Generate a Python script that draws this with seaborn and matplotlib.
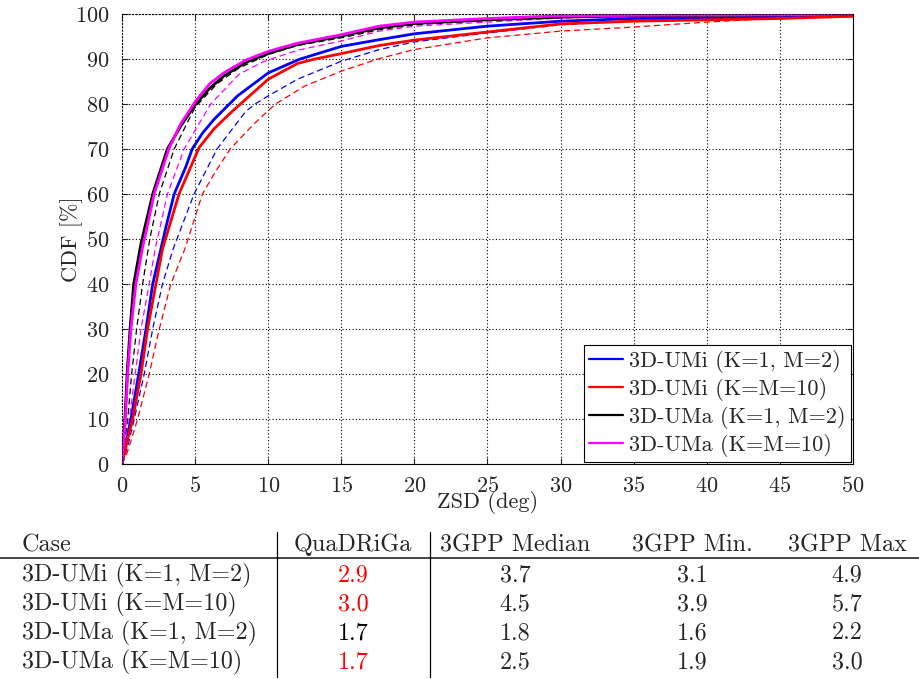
import matplotlib
matplotlib.use("Agg")
import matplotlib.pyplot as plt
from matplotlib.lines import Line2D
import seaborn as sns
import pandas as pd

# ---------------- data ----------------
# QuaDRiGa (solid)
umi_k1m2_x = [0, 0.3, 0.61, 1.14, 1.64, 2.1, 2.66, 3.0, 3.57, 4.36, 4.8, 5.5, 6.3, 7.9, 10, 12.1, 15, 17.6, 20, 25, 30, 35, 40, 45, 50]
umi_k1m2_y = [0, 5, 10, 20, 30, 40, 47.8, 52.6, 60, 66, 70, 73.5, 76.6, 81.8, 86.9, 89.9, 92.8, 94.3, 95.6, 97.3, 98.4, 99.0, 99.1, 99.3, 99.6]

umi_k10_x = [0, 0.35, 0.73, 1.3, 1.75, 2.32, 2.77, 3.9, 5.27, 6.3, 7.55, 10, 12, 13.2, 15, 17.6, 20, 25, 30, 35, 40, 45, 50]
umi_k10_y = [0, 5, 10, 20, 30, 40, 47.8, 60, 70.3, 74.5, 78.4, 85.5, 89.0, 90.0, 91.2, 93.0, 94.2, 96.0, 97.8, 98.4, 98.7, 99.0, 99.5]

uma_k1m2_x = [0, 0.2, 0.35, 0.55, 0.8, 1.3, 2.1, 3.1, 4.0, 5.0, 6.0, 7.0, 8.5, 10, 12, 15, 17.6, 20, 25, 30, 35, 40, 45, 50]
uma_k1m2_y = [0, 10, 20, 30, 40, 49, 60, 70, 75, 79.8, 83.5, 86.3, 89.3, 91.2, 93.2, 95.1, 96.9, 97.9, 98.7, 99.3, 99.6, 99.7, 99.8, 100]

uma_k10_x = [0, 0.23, 0.39, 0.61, 0.95, 1.4, 2.2, 3.2, 4.0, 5.05, 6.0, 7.0, 8.5, 10, 12, 15, 17.6, 20, 25, 30, 35, 40, 45, 50]
uma_k10_y = [0, 10, 20, 30, 40, 48, 60, 70, 75.5, 80.7, 84.5, 87, 89.8, 91.7, 93.5, 95.4, 97.3, 98.2, 99.0, 99.6, 99.7, 99.8, 99.8, 100]

# 3GPP (dashed)
g_umi_k1m2_x = [0, 0.4, 0.84, 1.52, 2.1, 2.77, 3.5, 4.93, 6.5, 8.45, 9.1, 10, 12, 15, 17.6, 20, 25, 30, 35, 40, 45, 50]
g_umi_k1m2_y = [0, 4, 10, 20, 30, 40, 47.8, 60, 70, 78.3, 80, 81.8, 85.5, 89.5, 92.1, 93.8, 95.8, 97.6, 98.5, 98.8, 99.2, 99.6]

g_umi_k10_x = [0, 0.3, 0.6, 1.07, 1.86, 2.55, 3.34, 4.3, 5.5, 6.4, 7.4, 9.0, 10.5, 12.5, 15, 17.6, 20, 25, 30, 35, 40, 45, 50]
g_umi_k10_y = [0, 2, 5, 10, 20, 30, 40, 47.8, 60, 65, 70, 75.5, 80, 84, 87.3, 90.1, 92.1, 94.7, 96.2, 97.1, 98.2, 99.1, 99.5]

g_uma_k1m2_x = [0, 0.39, 0.66, 1.0, 1.41, 1.9, 2.55, 3.57, 5.0, 6.5, 8, 10, 12, 15, 17.6, 20, 25, 30, 35, 40, 45, 50]
g_uma_k1m2_y = [0, 10, 20, 30, 40, 50, 60, 70, 79.3, 84.5, 88, 91, 93, 94.7, 96.5, 97.6, 98.6, 99.2, 99.6, 99.8, 99.9, 100]

g_uma_k10_x = [0, 0.5, 0.9, 1.3, 1.86, 2.27, 3.11, 4.25, 6.07, 8.0, 9.6, 10, 12.1, 15, 17.6, 20, 25, 30, 35, 40, 45, 50]
g_uma_k10_y = [0, 10, 20, 30, 40, 47.8, 60, 70, 80, 86.6, 89.3, 89.8, 92, 94, 96.2, 97.3, 98.2, 99.1, 99.5, 99.7, 99.8, 100]

legend_labels = ["3D-UMi (K=1, M=2)", "3D-UMi (K=M=10)", "3D-UMa (K=1, M=2)", "3D-UMa (K=M=10)"]
colors = ["#0000ff", "#ff0000", "#000000", "#ff00ff"]

x_ticks = [0, 5, 10, 15, 20, 25, 30, 35, 40, 45, 50]
y_ticks = [0, 10, 20, 30, 40, 50, 60, 70, 80, 90, 100]

# table
table_header = ["Case", "QuaDRiGa", "3GPP Median", "3GPP Min.", "3GPP Max"]
cases = ["3D-UMi (K=1, M=2)", "3D-UMi (K=M=10)", "3D-UMa (K=1, M=2)", "3D-UMa (K=M=10)"]
quadriga = ["2.9", "3.0", "1.7", "1.7"]
gpp_median = ["3.7", "4.5", "1.8", "2.5"]
gpp_min = ["3.1", "3.9", "1.6", "1.9"]
gpp_max = ["4.9", "5.7", "2.2", "3.0"]
quadriga_red = [True, True, False, True]

# ---------------- style ----------------
sns.set_style("white")
plt.rcParams['font.family'] = ['cmr10', 'DejaVu Serif']
plt.rcParams['axes.formatter.use_mathtext'] = True
plt.rcParams['mathtext.fontset'] = 'cm'

FS = 16

fig = plt.figure(figsize=(9.2, 6.79), dpi=100)
ax = fig.add_axes([122/920, 1-464/679, (853-122)/920, (464-14)/679])

solid = [(umi_k1m2_x, umi_k1m2_y), (umi_k10_x, umi_k10_y), (uma_k1m2_x, uma_k1m2_y), (uma_k10_x, uma_k10_y)]
dashed = [(g_umi_k1m2_x, g_umi_k1m2_y), (g_umi_k10_x, g_umi_k10_y), (g_uma_k1m2_x, g_uma_k1m2_y), (g_uma_k10_x, g_uma_k10_y)]

for (xs, ys), c in zip(dashed, colors):
    df = pd.DataFrame({"x": xs, "y": ys})
    sns.lineplot(data=df, x="x", y="y", ax=ax, color=c, lw=0.9, sort=False,
                 estimator=None, legend=False)
    ax.lines[-1].set_dashes((5, 3))

handles = []
for (xs, ys), c, lab in zip(solid, colors, legend_labels):
    df = pd.DataFrame({"x": xs, "y": ys})
    sns.lineplot(data=df, x="x", y="y", ax=ax, color=c, lw=2.0, sort=False,
                 estimator=None, legend=False)
    handles.append(Line2D([0], [0], color=c, lw=1.6, label=lab))

ax.set_xlim(0, 50)
ax.set_ylim(0, 100)
ax.set_xticks(x_ticks)
ax.set_yticks(y_ticks)
ax.grid(True, color="black", linestyle=(0, (1, 2)), lw=0.8)
ax.tick_params(direction="in", length=4, width=0.8, labelsize=FS,
               top=True, right=True, bottom=True, left=True)
ax.tick_params(axis="x", pad=9)
ax.tick_params(axis="y", pad=9)
for s in ax.spines.values():
    s.set_color("black")
    s.set_linewidth(0.8)
ax.spines["top"].set_linestyle((0, (1, 2)))
ax.spines["left"].set_linestyle((0, (1, 2)))

ax.set_xlabel("ZSD (deg)", fontsize=FS, labelpad=-4)
ax.set_ylabel("CDF [%]", fontsize=FS, labelpad=-6)

leg = ax.legend(handles=handles, loc="lower right", fontsize=FS, frameon=True,
                fancybox=False, edgecolor="black", framealpha=1,
                borderaxespad=0.1, handlelength=1.5, handletextpad=0.3,
                labelspacing=0.22, borderpad=0.22)
leg.get_frame().set_linewidth(0.8)

# ---------------- table ----------------
tfs = 17.4
col_x = [22/920, 353/920, 515/920, 692/920, 847/920]
header_y = 1 - 545/679
row_y = [1 - 575/679, 1 - 604/679, 1 - 633/679, 1 - 662/679]

fig.text(col_x[0], header_y, table_header[0], ha="left", va="center", fontsize=tfs)
for j in range(1, 5):
    fig.text(col_x[j], header_y, table_header[j], ha="center", va="center", fontsize=tfs)

for i in range(4):
    fig.text(col_x[0], row_y[i], cases[i], ha="left", va="center", fontsize=tfs)
    fig.text(col_x[1], row_y[i], quadriga[i], ha="center", va="center", fontsize=tfs,
             color="#ff0000" if quadriga_red[i] else "black")
    fig.text(col_x[2], row_y[i], gpp_median[i], ha="center", va="center", fontsize=tfs)
    fig.text(col_x[3], row_y[i], gpp_min[i], ha="center", va="center", fontsize=tfs)
    fig.text(col_x[4], row_y[i], gpp_max[i], ha="center", va="center", fontsize=tfs)

fig.add_artist(Line2D([0, 1], [1 - 558/679, 1 - 558/679], transform=fig.transFigure, color="#444444", lw=1.4))
for vx in [277/920, 430/920]:
    fig.add_artist(Line2D([vx, vx], [1 - 532/679, 1 - 677/679], transform=fig.transFigure, color="black", lw=0.9))

fig.savefig("out.png", dpi=100)
